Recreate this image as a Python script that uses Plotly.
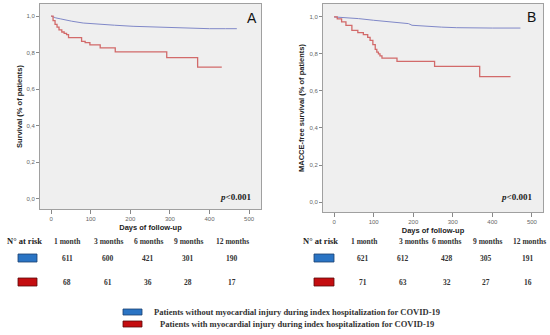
import plotly.graph_objects as go

W, H = 550, 335

# ---- data ----
a_blue_t = [0, 5, 12, 23, 35, 52, 81, 120, 160, 207, 260, 300, 350, 400, 440, 469]
a_blue_s = [1.0, 0.995, 0.99, 0.985, 0.978, 0.972, 0.962, 0.955, 0.95, 0.944, 0.94, 0.937, 0.933, 0.931, 0.931, 0.931]
a_red_t = [0, 5, 10, 15, 20, 27, 33, 39, 44, 77, 86, 98, 124, 162, 292, 370, 431]
a_red_s = [1.0, 0.975, 0.955, 0.94, 0.925, 0.913, 0.905, 0.898, 0.882, 0.862, 0.855, 0.843, 0.826, 0.804, 0.773, 0.721, 0.721]

b_blue_t = [0, 30, 62, 100, 150, 188, 197, 230, 272, 310, 349, 400, 471]
b_blue_s = [1.0, 0.996, 0.991, 0.982, 0.972, 0.964, 0.955, 0.95, 0.945, 0.942, 0.94, 0.94, 0.94]
b_red_t = [0, 8, 19, 30, 45, 60, 74, 85, 91, 98, 104, 108, 112, 116, 121, 159, 254, 368, 446]
b_red_s = [1.0, 0.99, 0.973, 0.955, 0.927, 0.915, 0.904, 0.89, 0.873, 0.85, 0.825, 0.81, 0.8, 0.79, 0.778, 0.76, 0.733, 0.678, 0.678]

risk_headers = ["1 month", "3 months", "6 months", "9 months", "12 months"]
a_risk_blue = [611, 600, 421, 301, 190]
a_risk_red = [68, 61, 36, 28, 17]
b_risk_blue = [621, 612, 428, 305, 191]
b_risk_red = [71, 63, 32, 27, 16]

y_ticks = [0.0, 0.2, 0.4, 0.6, 0.8, 1.0]
y_tick_text = ["0,0", "0,2", "0,4", "0,6", "0,8", "1,0"]
x_ticks = [0, 100, 200, 300, 400, 500]

legend_labels = [
    "Patients without myocardial injury during index hospitalization for COVID-19",
    "Patients with myocardial injury during index hospitalization for COVID-19",
]

BLUE_LINE = "#8088c8"
RED_LINE = "#d26a6a"
BLUE_BOX = "#2a74c4"
RED_BOX = "#c40d10"


def px(x):
    return x / W


def py(y):
    return 1 - y / H


fig = go.Figure()

fig.add_trace(go.Scatter(x=a_blue_t, y=a_blue_s, mode="lines", line=dict(color=BLUE_LINE, width=1, shape="linear"),
                         xaxis="x", yaxis="y", showlegend=False))
fig.add_trace(go.Scatter(x=a_red_t, y=a_red_s, mode="lines", line=dict(color=RED_LINE, width=1.3, shape="hv"),
                         xaxis="x", yaxis="y", showlegend=False))
fig.add_trace(go.Scatter(x=b_blue_t, y=b_blue_s, mode="lines", line=dict(color=BLUE_LINE, width=1, shape="linear"),
                         xaxis="x2", yaxis="y2", showlegend=False))
fig.add_trace(go.Scatter(x=b_red_t, y=b_red_s, mode="lines", line=dict(color=RED_LINE, width=1.3, shape="hv"),
                         xaxis="x2", yaxis="y2", showlegend=False))

tickfont = dict(family="Liberation Sans, Arial", size=6, color="#666666")
titlefont = dict(family="Liberation Sans, Arial", size=7.5, color="#222222")

common_x = dict(tickvals=x_ticks, ticks="outside", ticklen=4, tickcolor="#888888", tickfont=tickfont,
                showgrid=False, zeroline=False, showline=True, linecolor="#a0a0a0", mirror=True,
                automargin=False)
common_y = dict(tickvals=y_ticks, ticktext=y_tick_text, ticks="outside", ticklen=3, tickcolor="#888888",
                tickfont=tickfont, showgrid=False, zeroline=False, showline=True, linecolor="#a0a0a0", mirror=True,
                automargin=False)

fig.update_layout(
    width=W, height=H, margin=dict(l=0, r=0, t=0, b=0, autoexpand=False),
    paper_bgcolor="white", plot_bgcolor="#efefef",
    xaxis=dict(domain=[px(40), px(261)], range=[-28, 530], anchor="y",
               title=dict(text="<b>Days of follow-up</b>", font=titlefont, standoff=3), **common_x),
    yaxis=dict(domain=[py(209), py(4)], range=[-0.055, 1.066], anchor="x",
               title=dict(text="<b>Survival (% of patients)</b>", font=titlefont, standoff=2), **common_y),
    xaxis2=dict(domain=[px(323), px(543)], range=[-28, 528], anchor="y2",
                title=dict(text="<b>Days of follow-up</b>", font=titlefont, standoff=3), **common_x),
    yaxis2=dict(domain=[py(212), py(4)], range=[-0.054, 1.070], anchor="x2",
                title=dict(text="<b>MACCE-free survival (% of patients)</b>", font=titlefont, standoff=3), **common_y),
)

ann = []


def add_text(x, y, text, font, xanchor="center"):
    ann.append(dict(x=px(x), y=py(y), xref="paper", yref="paper", text=text, showarrow=False,
                    xanchor=xanchor, yanchor="middle", font=font))


letter_font = dict(family="Liberation Sans, Arial", size=14, color="#111111")
add_text(252, 18, "A", letter_font)
add_text(531, 17, "B", letter_font)

pfont = dict(family="Liberation Serif, Times New Roman", size=9, color="#222222")
add_text(253, 197, "<b><i>p</i>&lt;0.001</b>", pfont, xanchor="right")
add_text(534, 197, "<b><i>p</i>&lt;0.001</b>", pfont, xanchor="right")

serif = "Liberation Serif, Times New Roman"
tab_font = dict(family=serif, size=7.5, color="#333333")

panels = [
    dict(nx=24, hcols=[67, 108, 148, 188, 232], vcols=[67, 108, 148, 188, 232], boxx=(18, 37),
         blue=a_risk_blue, red=a_risk_red),
    dict(nx=320, hcols=[364, 413, 446, 487, 529], vcols=[363, 403, 447, 486, 528], boxx=(314, 334),
         blue=b_risk_blue, red=b_risk_red),
]
shapes = []
for p in panels:
    add_text(p["nx"], 241, "<b>N° at risk</b>", dict(family=serif, size=8.5, color="#222222"))
    for hx, vx, hdr, vb, vr in zip(p["hcols"], p["vcols"], risk_headers, p["blue"], p["red"]):
        add_text(hx, 241, f"<b>{hdr}</b>", tab_font)
        add_text(vx, 258, f"<b>{vb}</b>", tab_font)
        add_text(vx, 282, f"<b>{vr}</b>", tab_font)
    x0, x1 = p["boxx"]
    shapes.append(dict(type="rect", xref="paper", yref="paper", x0=px(x0), x1=px(x1), y0=py(262), y1=py(254),
                       fillcolor=BLUE_BOX, line=dict(color="#1a3f70", width=0.8)))
    shapes.append(dict(type="rect", xref="paper", yref="paper", x0=px(x0), x1=px(x1), y0=py(286), y1=py(278),
                       fillcolor=RED_BOX, line=dict(color="#5a0a0a", width=0.8)))

# bottom legend
for lab, yy, col, lc in [(legend_labels[0], 312, BLUE_BOX, "#1a3f70"), (legend_labels[1], 324, RED_BOX, "#5a0a0a")]:
    shapes.append(dict(type="rect", xref="paper", yref="paper", x0=px(123), x1=px(142), y0=py(yy + 3), y1=py(yy - 3),
                       fillcolor=col, line=dict(color=lc, width=0.8)))
    add_text(297, yy, f"<b>{lab}</b>", dict(family=serif, size=8.5, color="#333333"))

fig.update_layout(annotations=ann, shapes=shapes)
fig.write_html("out.html", config={"displayModeBar": False},
               post_script="document.body.style.margin='0';document.body.style.overflow='hidden';")
